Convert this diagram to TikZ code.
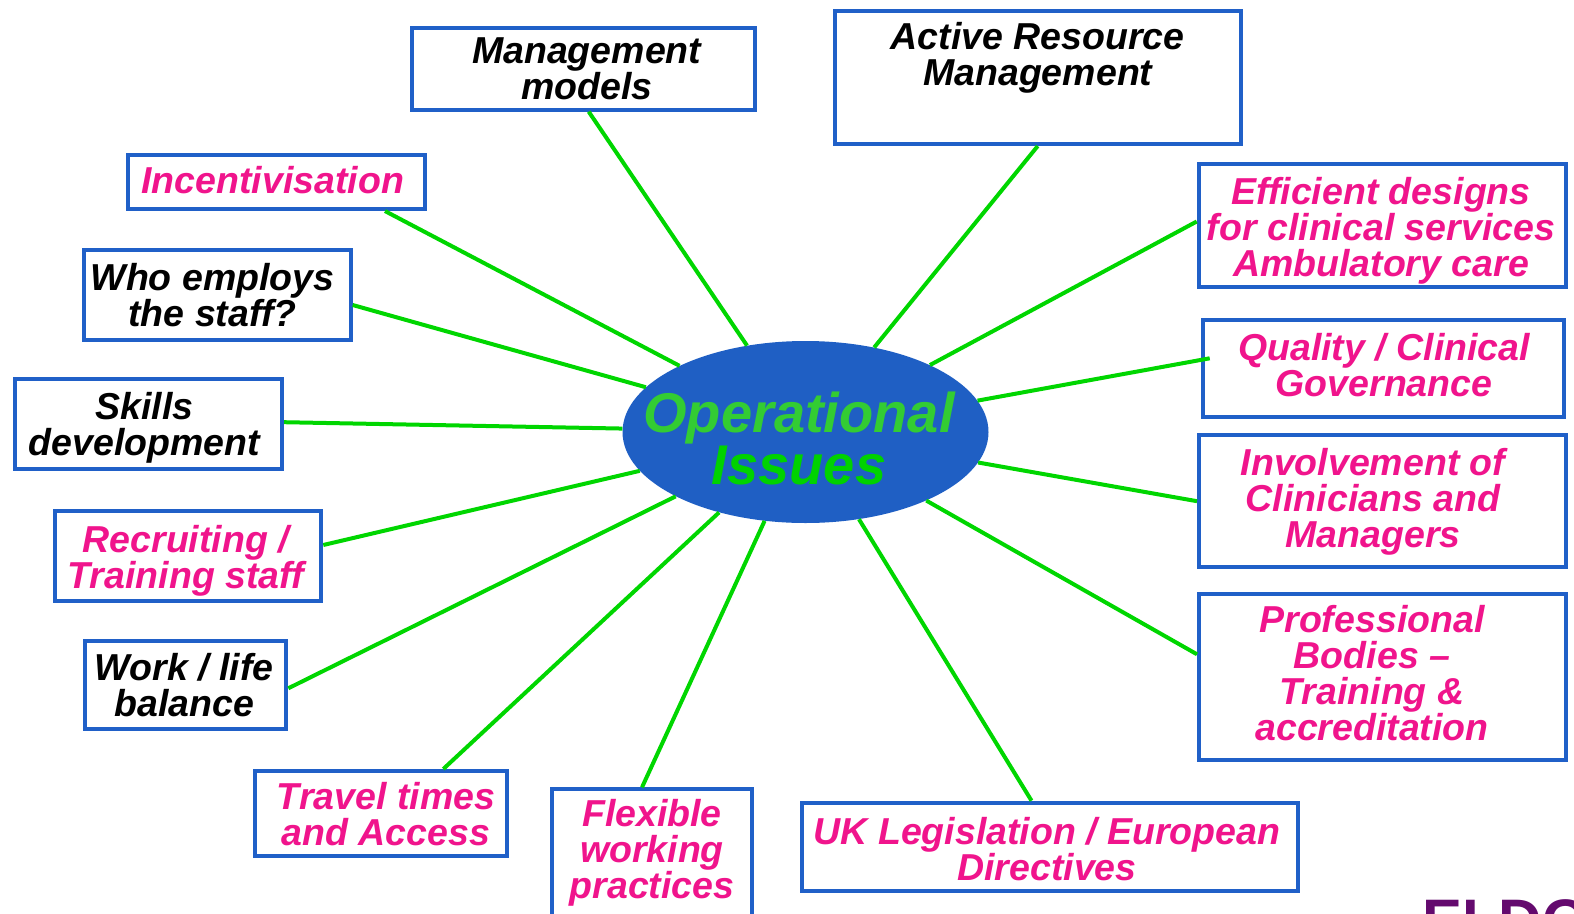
\documentclass[tikz,border=0pt]{standalone}
\usepackage{fontspec}
\setmainfont{Liberation Sans}
\usetikzlibrary{calc,shapes.geometric}
\definecolor{boxblue}{RGB}{32,96,200}
\definecolor{ellblue}{RGB}{31,95,196}
\definecolor{linegreen}{RGB}{0,214,0}
\definecolor{pinktext}{RGB}{240,20,140}
\definecolor{optgreen}{RGB}{51,204,51}
\definecolor{issgreen}{RGB}{0,210,0}
\definecolor{logopurple}{RGB}{100,10,110}
\begin{document}
\begin{tikzpicture}[x=1pt,y=-1pt,
  boxtext/.style={inner sep=0pt, align=center, font=\fontsize{37.5}{36}\selectfont\bfseries\itshape},
  pinktxt/.style={boxtext, text=pinktext},
  blacktxt/.style={boxtext, text=black},
  box/.style={draw=boxblue, line width=4pt, fill=white, inner sep=0pt},
  conn/.style={draw=linegreen, line width=4pt}]
\useasboundingbox (0,0) rectangle (1574,913);
\clip (0,0) rectangle (1574,913);

% boxes
\node[box, minimum width=343, minimum height=81.7] (mm) at (583.7,68.8) {};
\node[box, minimum width=406, minimum height=132.7] (ar) at (1037.7,77.7) {};
\node[box, minimum width=297, minimum height=53.7] (inc) at (276.7,182.2) {};
\node[box, minimum width=267, minimum height=90] (who) at (217.2,294.7) {};
\node[box, minimum width=266.7, minimum height=89.7] (sk) at (148.7,424.2) {};
\node[box, minimum width=266.6, minimum height=90] (rec) at (188,556.3) {};
\node[box, minimum width=201, minimum height=87.7] (wl) at (185.8,684.8) {};
\node[box, minimum width=252, minimum height=85] (tr) at (381,813.5) {};
\node[box, minimum width=200, minimum height=140] (fl) at (652,859.3) {};
\node[box, minimum width=496, minimum height=88.6] (uk) at (1050,847) {};
\node[box, minimum width=367, minimum height=166] (prof) at (1382.5,676.7) {};
\node[box, minimum width=367, minimum height=131.7] (inv) at (1382.5,501.2) {};
\node[box, minimum width=361, minimum height=97] (qual) at (1383.2,368.8) {};
\node[box, minimum width=367.6, minimum height=123.6] (eff) at (1382.5,225.5) {};

% texts
\node[blacktxt] (mmt) at (586.7,68.7) {Management\\models};
\node[blacktxt] (art) at (1037.8,57.7) {Active Resource\\Management};
\node[pinktxt] (inct) at (272.8,179.7) {Incentivisation};
\node[blacktxt] (whot) at (212.5,295) {Who employs\\the staff?};
\node[blacktxt] (skt) at (144.5,428.2) {Skills\\development};
\node[pinktxt] (rect) at (185.8,561) {Recruiting /\\Training staff};
\node[blacktxt] (wlt) at (184.2,685.5) {Work / life\\balance};
\node[pinktxt] (trt) at (386,814.2) {Travel times\\and Access};
\node[pinktxt] (flt) at (652,852.8) {Flexible\\working\\practices};
\node[pinktxt] (ukt) at (1047,848.6) {UK Legislation / European\\Directives};
\node[pinktxt] (proft) at (1372,672.7) {Professional\\Bodies –\\Training \&\\accreditation};
\node[pinktxt] (invt) at (1373,501.5) {Involvement of\\Clinicians and\\Managers};
\node[pinktxt] (qualt) at (1384,365.4) {Quality / Clinical\\Governance};
\node[pinktxt] (efft) at (1381,230.7) {Efficient designs\\for clinical services\\Ambulatory care};

% centre
\node[ellipse, fill=ellblue, minimum width=366, minimum height=182, inner sep=0pt] (op) at (805.5,432) {};
\node[inner sep=0pt, align=center, font=\fontsize{56}{50}\selectfont\bfseries\itshape] (optext) at (799,438.5)
  {\textcolor{optgreen}{Operational}\\\textcolor{issgreen}{Issues}};

% connectors
\draw[conn] (op) -- ($(mm.south)+(5,0)$);
\draw[conn] (op) -- (ar.south);
\draw[conn] (op) -- ($(eff.west)+(0,-4)$);
\draw[conn] (op) -- ($(qual.west)+(9,-10.5)$);
\draw[conn] (op) -- (inv.west);
\draw[conn] (op) -- ($(prof.west)+(0,-22.4)$);
\draw[conn] (op) -- ($(uk.north)+(-18.5,0)$);
\draw[conn] (op) -- ($(fl.north)+(-10,0)$);
\draw[conn] (op) -- ($(tr.north)+(62.3,0)$);
\draw[conn] (op) -- ($(wl.east)+(0,3.5)$);
\draw[conn] (op) -- ($(rec.east)+(0,-11.3)$);
\draw[conn] (op) -- ($(sk.east)+(0,-2)$);
\draw[conn] (op) -- ($(who.east)+(0,10.3)$);
\draw[conn] (op) -- ($(inc.south)+(108.3,0)$);

% partial logo
\node[anchor=north west, inner sep=0pt, text=logopurple, font=\fontsize{60}{60}\selectfont\bfseries] (logo) at (1422,899) {ELDO};
\end{tikzpicture}
\end{document}
